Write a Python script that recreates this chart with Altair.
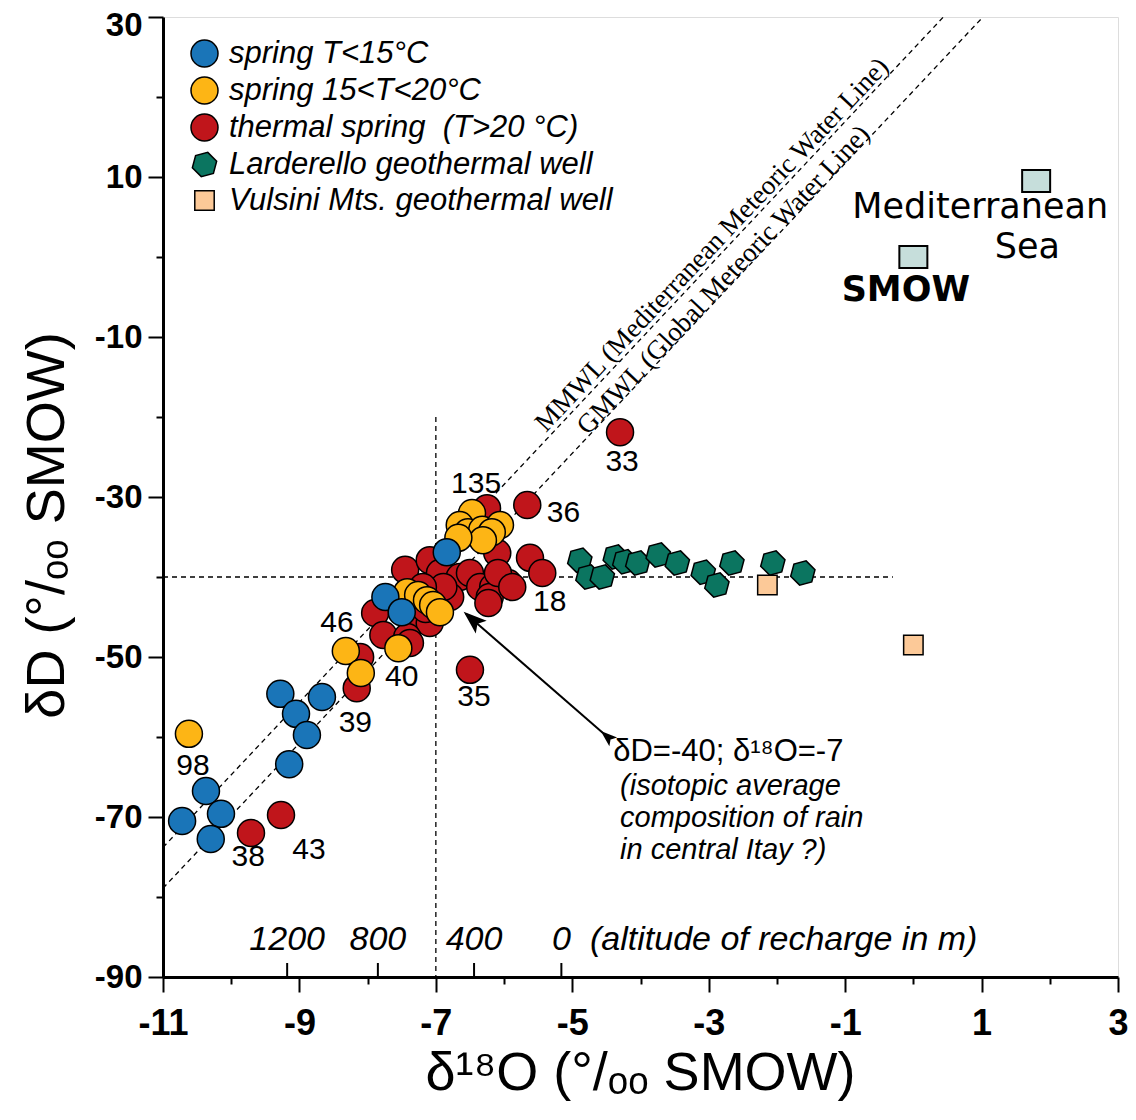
import altair as alt
import pandas as pd

# ---------------- data ----------------
cats = ["spring T<15°C", "spring 15<T<20°C", "thermal spring\u00a0 (T>20 °C)",
        "Larderello geothermal well", "Vulsini Mts. geothermal well"]
colors = ["#1a75b8", "#fdb515", "#c0151b", "#0b7560", "#fcc998"]
outline = ["black", "black", "black", "black", "black"]

blue_x = [-6.84, -7.74, -7.50, -9.28, -8.67, -9.05, -8.89, -9.15, -10.37, -10.15, -10.72, -10.30]
blue_y = [-36.9, -42.5, -44.4, -54.6, -55.0, -57.1, -59.75, -63.4, -66.75, -69.6, -70.5, -72.75]

yellow_x = [-6.47, -6.65, -6.53, -6.32, -6.06, -6.18, -6.31, -6.67, -7.42, -7.26, -7.13,
            -7.04, -6.94, -7.55, -8.32, -8.10, -10.62]
yellow_y = [-32.0, -33.5, -34.4, -34.1, -33.5, -34.4, -35.4, -35.1, -41.9, -42.25, -42.9,
            -43.5, -44.4, -48.9, -49.25, -52.0, -59.6]

red_x = [-6.25, -5.66, -6.10, -5.62, -5.44, -7.45, -7.09, -6.94, -6.65, -6.50, -6.35, -6.16,
         -5.94, -6.21, -6.79, -6.89, -7.19, -7.89, -7.77, -7.33, -7.09, -7.42, -8.11, -8.16,
         -6.50, -4.30, -9.71, -9.27, -6.09, -5.88, -6.23, -7.38, -7.15]
red_y = [-31.4, -31.0, -37.0, -37.6, -39.5, -39.1, -37.9, -39.5, -40.0, -39.5, -41.25, -41.25,
         -40.75, -42.5, -42.5, -41.25, -41.25, -44.5, -47.25, -45.4, -45.75, -47.5, -50.0, -53.9,
         -51.6, -21.9, -72.0, -69.75, -39.5, -41.25, -43.25, -48.25, -44.0]

green_x = [-4.89, -4.77, -4.56, -4.37, -4.23, -4.04, -3.74, -3.46, -3.08, -2.88, -2.66, -2.06, -1.62]
green_y = [-37.9, -40.0, -40.0, -37.5, -38.1, -38.25, -37.25, -38.25, -39.4, -41.0, -38.25, -38.25, -39.5]

vulsini_x = [-2.14, 0.0]
vulsini_y = [-41.0, -48.5]

sea_x = [0.0, 1.80]
sea_y = [0.0, 9.5]

# sample numbers
num_text = ["135", "36", "18", "33", "46", "40", "39", "35", "98", "38", "43"]
num_x = [-6.41, -5.13, -5.33, -4.27, -8.45, -7.50, -8.18, -6.44, -10.56, -9.75, -8.86]
num_y = [-28.4, -32.0, -43.1, -25.6, -45.75, -52.5, -58.25, -55.0, -63.6, -75.0, -74.1]

# reference lines (end points)
line_name = ["MMWL", "MMWL", "GMWL", "GMWL", "h", "h", "v", "v"]
line_x = [-11.0, 0.44, -11.0, 1.02, -11.0, -0.30, -7.0, -7.0]
line_y = [-73.8, 30.0, -78.9, 30.0, -40.0, -40.0, -20.0, -90.0]

# altitude of recharge scale
alt_x = [-9.18, -7.85, -6.44, -5.16]
alt_lab = ["1200", "800", "400", "0"]

# arrow
arrow_x = [-4.55, -6.56]
arrow_y = [-59.5, -44.6]

# ---------------- tables ----------------
rows = []
for cat_i, (xs_, ys_) in [(2, (red_x, red_y)), (1, (yellow_x, yellow_y)), (0, (blue_x, blue_y)),
                          (3, (green_x, green_y)), (4, (vulsini_x, vulsini_y))]:
    for xv, yv in zip(xs_, ys_):
        rows.append({"x": xv, "y": yv, "cat": cats[cat_i], "ord": len(rows)})
pts = pd.DataFrame(rows)

CIRCLE = "M1,0A1,1 0 1,1 -1,0A1,1 0 1,1 1,0Z"
HEX = "M0.24,-0.9L0.9,-0.24L0.66,0.66L-0.24,0.9L-0.9,0.24L-0.66,-0.66Z"
SQUARE = "M-0.72,-0.72L0.72,-0.72L0.72,0.72L-0.72,0.72Z"
RECT = "M-1,-0.78L1,-0.78L1,0.78L-1,0.78Z"
ARROW = "M0,0L0.5,1.4L0,1.1L-0.5,1.4Z"
shapes = [CIRCLE, CIRCLE, CIRCLE, HEX, SQUARE]

xs = alt.Scale(domain=[-11, 3], nice=False, zero=False)
ys = alt.Scale(domain=[-90, 30], nice=False, zero=False)

xvals = [-11 + 0.5 * i for i in range(29)]
yvals = [-90 + 5 * i for i in range(25)]

x_axis = alt.Axis(
    values=xvals,
    labelExpr="(datum.value + 11) % 2 === 0 ? (datum.value < 0 ? '-' + abs(datum.value) : '' + datum.value) : ''",
    tickSize={"condition": {"test": "(datum.value + 11) % 2 === 0", "value": 15}, "value": 7},
    tickWidth=2, tickColor="black", domainColor="black", domainWidth=3,
    labelFont="Liberation Sans", labelFontWeight="bold", labelFontSize=36,
    labelColor="black", labelPadding=14, labelOverlap=False, labelFlush=False, grid=False,
    title="δ¹⁸O (°/ₒₒ SMOW)", titleFont="Liberation Sans", titleFontSize=54,
    titleFontWeight="normal", titleColor="black", titleX=477, titleY=96,
    titleAlign="center", titleBaseline="middle",
)
y_axis = alt.Axis(
    values=yvals,
    labelExpr="(datum.value + 90) % 20 === 0 ? (datum.value < 0 ? '-' + abs(datum.value) : '' + datum.value) : ''",
    tickSize={"condition": {"test": "(datum.value + 90) % 20 === 0", "value": 15}, "value": 7},
    labelOffset={"condition": {"test": "datum.value === 30", "value": 8}, "value": 0},
    tickWidth=2, tickColor="black", domainColor="black", domainWidth=3,
    labelFont="Liberation Sans", labelFontWeight="bold", labelFontSize=33,
    labelColor="black", labelPadding=6, labelOverlap=False, labelFlush=False, grid=False,
    title="δD (°/ₒₒ SMOW)", titleFont="Liberation Sans", titleFontSize=54,
    titleFontWeight="normal", titleColor="black", titleX=-116, titleY=508, titleAngle=270,
    titleAlign="center", titleBaseline="middle",
)

legend = alt.Legend(
    title=None, orient="none", legendX=26, legendY=21, padding=0,
    labelFont="Liberation Sans", labelFontStyle="italic", labelFontSize=31, labelColor="black",
    labelLimit=600, labelOffset=9, rowPadding=4, symbolSize=729, symbolStrokeColor="black",
    symbolStrokeWidth=1.5, symbolOpacity=1,
)

base_x = alt.X("x:Q", scale=xs, axis=x_axis)
base_y = alt.Y("y:Q", scale=ys, axis=y_axis)

lines_df = pd.DataFrame({"name": line_name, "x": line_x, "y": line_y})
lines = alt.Chart(lines_df).mark_line(color="black", strokeWidth=1.3, strokeDash=[5, 4]).encode(
    x=base_x, y=base_y, detail="name:N")

alt_df = pd.DataFrame({"x": alt_x, "lab": alt_lab, "y0": [-90] * 4, "y1": [-88.25] * 4, "yt": [-85.4] * 4})
alt_ticks = alt.Chart(alt_df).mark_rule(color="black", strokeWidth=2).encode(
    x="x:Q", y="y0:Q", y2="y1:Q")
alt_text = alt.Chart(alt_df).mark_text(font="Liberation Sans", fontStyle="italic",
                                       fontSize=34, color="black").encode(x="x:Q", y="yt:Q", text="lab:N")
alt_note = alt.Chart(pd.DataFrame({"x": [-4.74], "y": [-85.4], "t": ["(altitude of recharge in m)"]})).mark_text(
    font="Liberation Sans", fontStyle="italic", fontSize=34, align="left",
    color="black").encode(x="x:Q", y="y:Q", text="t:N")

points = alt.Chart(pts).mark_point(filled=True, strokeWidth=1.5, opacity=1, size=729).encode(
    x=base_x, y=base_y,
    fill=alt.Fill("cat:N", scale=alt.Scale(domain=cats, range=colors), legend=legend),
    shape=alt.Shape("cat:N", scale=alt.Scale(domain=cats, range=shapes), legend=legend),
    stroke=alt.Stroke("cat:N", scale=alt.Scale(domain=cats, range=outline), legend=legend),
    order=alt.Order("ord:Q"),
)

sea = alt.Chart(pd.DataFrame({"x": sea_x, "y": sea_y})).mark_point(
    shape=RECT, size=784, filled=True, fill="#c6dedb", stroke="black", strokeWidth=2, opacity=1
).encode(x="x:Q", y="y:Q")

nums = alt.Chart(pd.DataFrame({"x": num_x, "y": num_y, "t": num_text})).mark_text(
    font="Liberation Sans", fontSize=30, color="black").encode(x="x:Q", y="y:Q", text="t:N")

sea_lab = alt.Chart(pd.DataFrame({"x": [0.98, 1.67], "y": [6.3, 1.3], "t": ["Mediterranean", "Sea"]})).mark_text(
    font="DejaVu Sans", fontSize=35, color="black").encode(x="x:Q", y="y:Q", text="t:N")
smow_lab = alt.Chart(pd.DataFrame({"x": [-0.11], "y": [-4.1], "t": ["SMOW"]})).mark_text(
    font="DejaVu Sans", fontSize=35, fontWeight="bold", color="black").encode(x="x:Q", y="y:Q", text="t:N")

mw_lab = alt.Chart(pd.DataFrame({"x": [-2.95, -2.78], "y": [1.5, -2.9],
                                 "t": ["MMWL (Mediterranean Meteoric Water Line)",
                                       "GMWL (Global Meteoric Water Line)"]})).mark_text(
    font="Liberation Serif", fontSize=27, angle=313.3, color="black").encode(x="x:Q", y="y:Q", text="t:N")

note1 = alt.Chart(pd.DataFrame({"x": [-4.40], "y": [-61.9], "t": ["δD=-40; δ¹⁸O=-7"]})).mark_text(
    font="Liberation Sans", fontSize=31, align="left", color="black").encode(x="x:Q", y="y:Q", text="t:N")
note2 = alt.Chart(pd.DataFrame({"x": [-4.30] * 3, "y": [-66.1, -70.1, -74.1],
                                "t": ["(isotopic average", "composition of rain", "in central Itay ?)"]})).mark_text(
    font="Liberation Sans", fontSize=29, fontStyle="italic", align="left", color="black").encode(
    x="x:Q", y="y:Q", text="t:N")

arrow_df = pd.DataFrame({"x": arrow_x, "y": arrow_y})
arrow_line = alt.Chart(arrow_df).mark_line(color="black", strokeWidth=2).encode(x="x:Q", y="y:Q")
arrow_head = alt.Chart(arrow_df.iloc[[1]]).mark_point(
    shape=ARROW, size=665, angle=311, filled=True, fill="black", stroke="black", opacity=1
).encode(x="x:Q", y="y:Q")
arrow_tail = alt.Chart(arrow_df.iloc[[0]]).mark_point(
    shape=ARROW, size=260, angle=311, filled=True, fill="black", stroke="black", opacity=1
).encode(x="x:Q", y="y:Q")

chart = alt.layer(
    lines, alt_ticks, alt_text, alt_note, arrow_line, arrow_head, arrow_tail,
    points, sea, nums, sea_lab, smow_lab, mw_lab, note1, note2,
).properties(
    width=955, height=960,
    padding={"left": 163, "top": 17, "right": 18, "bottom": 143},
    autosize=alt.AutoSizeParams(type="none"),
).configure_view(stroke="black", strokeWidth=3).configure(background="white")

chart.save("out.html", embed_options={"renderer": "svg", "actions": False})
